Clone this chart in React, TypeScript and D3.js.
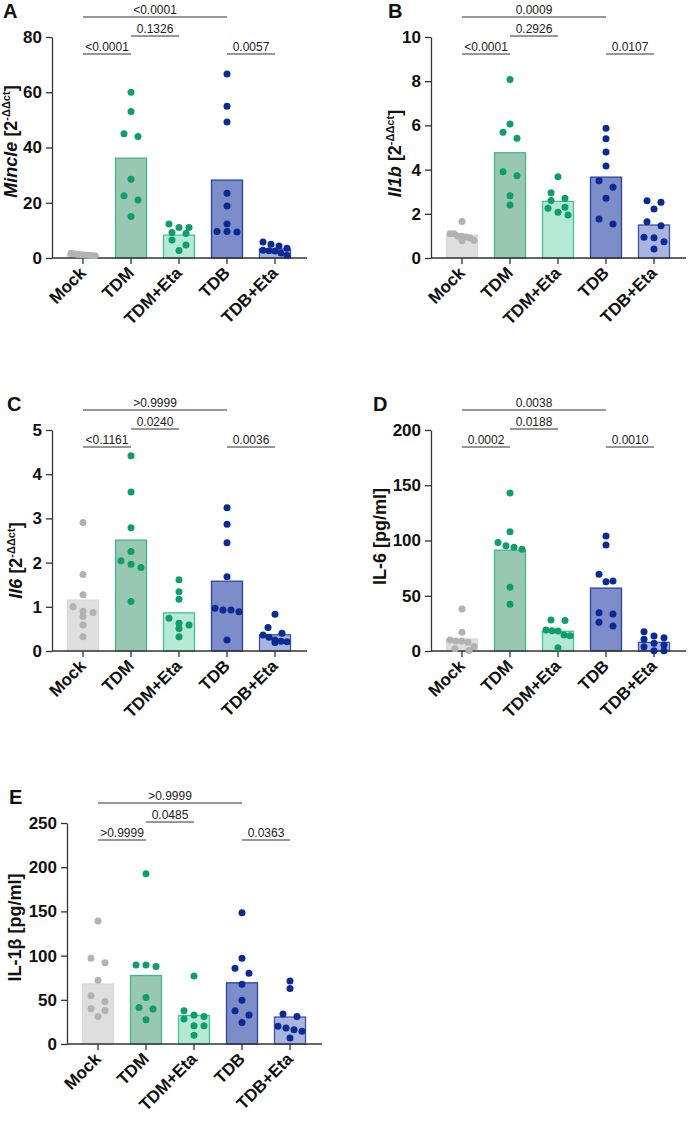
import React, { useEffect, useRef } from 'react';
import * as d3 from 'd3';

// treatment groups, in plotting order
const groups = ['Mock', 'TDM', 'TDM+Eta', 'TDB', 'TDB+Eta'];

// per-mouse values for each group (same order as groups)
const mincleValues = [
    [0.8, 1.0, 1.2, 1.5, 1.7, 1.3, 1.1, 0.9],
    [60, 53, 44, 45, 28.5, 22.5, 21, 15],
    [11, 12.3, 11, 9.2, 8.9, 6.5, 4.7, 2.7],
    [66.6, 54.9, 49.2, 23.4, 18.8, 12.3, 9.6, 9.6, 9.4],
    [2.8, 2.6, 5.8, 5.0, 4.3, 2.5, 1.8, 0.9, 3.5],
];
const il1bValues = [
    [1.65, 1.0, 0.98, 1.1, 1.1, 0.9, 0.8, 0.78, 0.95],
    [8.08, 6.06, 5.69, 5.42, 3.9, 3.72, 2.82, 2.4],
    [3.68, 2.95, 2.6, 2.7, 2.3, 2.25, 2.07, 1.95],
    [5.87, 5.4, 4.8, 4.16, 3.5, 3.2, 2.7, 1.76, 1.54],
    [2.59, 2.52, 2.22, 1.64, 1.46, 0.94, 0.92, 0.74, 0.41],
];
const il6Values = [
    [2.91, 1.73, 1.27, 1.0, 0.9, 0.87, 0.78, 0.59, 0.32],
    [4.42, 3.6, 2.79, 2.25, 2.04, 1.96, 1.89, 1.12],
    [1.61, 1.34, 1.17, 0.74, 0.63, 0.59, 0.51, 0.32],
    [3.24, 2.87, 2.45, 1.68, 0.97, 0.93, 0.93, 0.89, 0.25],
    [0.83, 0.53, 0.4, 0.36, 0.31, 0.25, 0.22, 0.21, 0.19],
];
const il6ProteinValues = [
    [38, 17, 10, 9, 9, 8, 4, 2, 0.5],
    [143, 108, 98.3, 95.3, 93.8, 92, 57.6, 42.3],
    [28, 27.5, 19, 18.4, 18.1, 14.5, 13.9, 3],
    [104, 96, 69.4, 63.3, 62.7, 34.7, 33.5, 26, 22.6],
    [17.5, 13.6, 12, 10.6, 7, 5.4, 3.9, 0.3, 0.3],
];
const il1bProteinValues = [
    [139, 97, 92, 72, 54.5, 48, 40, 38, 31],
    [192.5, 89.4, 89.4, 87.6, 52.6, 41.4, 39.5, 27.4],
    [77, 37.5, 32.7, 31.2, 28.2, 20.6, 20.6, 10],
    [148.5, 97, 85.7, 80, 67.6, 49.6, 37.5, 32.7, 24.4],
    [71.4, 62.8, 33.8, 31.2, 20, 18, 16.1, 14.3, 6.8],
];

// p-values: [from group, to group, label]; first is the long top bracket,
// second sits below it, the last two share the lowest level
const mincleStats = [
    ['Mock', 'TDB', '<0.0001'],
    ['TDM', 'TDM+Eta', '0.1326'],
    ['Mock', 'TDM', '<0.0001'],
    ['TDB', 'TDB+Eta', '0.0057'],
];
const il1bStats = [
    ['Mock', 'TDB', '0.0009'],
    ['TDM', 'TDM+Eta', '0.2926'],
    ['Mock', 'TDM', '<0.0001'],
    ['TDB', 'TDB+Eta', '0.0107'],
];
const il6Stats = [
    ['Mock', 'TDB', '>0.9999'],
    ['TDM', 'TDM+Eta', '0.0240'],
    ['Mock', 'TDM', '<0.1161'],
    ['TDB', 'TDB+Eta', '0.0036'],
];
const il6ProteinStats = [
    ['Mock', 'TDB', '0.0038'],
    ['TDM', 'TDM+Eta', '0.0188'],
    ['Mock', 'TDM', '0.0002'],
    ['TDB', 'TDB+Eta', '0.0010'],
];
const il1bProteinStats = [
    ['Mock', 'TDB', '>0.9999'],
    ['TDM', 'TDM+Eta', '0.0485'],
    ['Mock', 'TDM', '>0.9999'],
    ['TDB', 'TDB+Eta', '0.0363'],
];

const barFill = ['#dedede', '#98c8b1', '#b3e9d5', '#7c8dc9', '#aab5df'];
const barStroke = ['#d9d9d9', '#45b487', '#45c295', '#2b44a3', '#3a52aa'];
const dotFill = ['#b2b2b2', '#0f9d6b', '#0f9d6b', '#0a2a94', '#0a2a94'];

const FONT = '"Liberation Sans", Arial, Helvetica, sans-serif';
const PLOT_H = 221;
const FIRST = 31; // distance from y axis to first group
const STEP = 48;
const AXIS_W = 255;
const BAR_W = 31;

type Panel = {
    letter: string;
    values: number[][];
    stats: string[][];
    max: number;
    tickStep: number;
    gene?: string;
    label?: string;
    left: number;
    top: number;
    labelX: number;
    labelDy: number;
    letterX: number;
};

const panels: Panel[] = [
    { letter: 'A', values: mincleValues, stats: mincleStats, max: 80, tickStep: 20, gene: 'Mincle', left: 52, top: 37, labelX: 17, labelDy: -6, letterX: 3 },
    { letter: 'B', values: il1bValues, stats: il1bStats, max: 10, tickStep: 2, gene: 'Il1b', left: 431, top: 37, labelX: 401, labelDy: 6, letterX: 388 },
    { letter: 'C', values: il6Values, stats: il6Stats, max: 5, tickStep: 1, gene: 'Il6', left: 52, top: 430, labelX: 22, labelDy: 20, letterX: 7 },
    { letter: 'D', values: il6ProteinValues, stats: il6ProteinStats, max: 200, tickStep: 50, label: 'IL-6 [pg/ml]', left: 431, top: 430, labelX: 386, labelDy: -4, letterX: 373 },
    { letter: 'E', values: il1bProteinValues, stats: il1bProteinStats, max: 250, tickStep: 50, label: 'IL-1β [pg/ml]', left: 67, top: 823, labelX: 21, labelDy: -6, letterX: 9 },
];

// spread points that sit at nearly the same height into centred rows
function swarm(vals: number[], y: d3.ScaleLinear<number, number>) {
    const sorted = vals.slice().sort((a, b) => b - a);
    const rows: number[][] = [];
    sorted.forEach((v) => {
        const row = rows[rows.length - 1];
        if (row && y(v) - y(row[0]) < 7) row.push(v);
        else rows.push([v]);
    });
    const out: { v: number; dx: number }[] = [];
    rows.forEach((row) => {
        const n = row.length;
        const step = n === 1 ? 0 : n === 2 ? 14 : Math.min(10, 24 / (n - 1));
        row.forEach((v, i) => out.push({ v, dx: (i - (n - 1) / 2) * step }));
    });
    return out;
}

function drawPanel(svg: d3.Selection<SVGSVGElement, unknown, null, undefined>, p: Panel) {
    const g = svg.append('g');
    const x = d3.scalePoint<string>().domain(groups).range([p.left + FIRST, p.left + FIRST + STEP * 4]);
    const y = d3.scaleLinear().domain([0, p.max]).range([p.top + PLOT_H, p.top]);
    const y0 = y(0);

    // bars at group means
    g.selectAll('rect.bar')
        .data(p.values)
        .enter()
        .append('rect')
        .attr('class', 'bar')
        .attr('x', (_, i) => x(groups[i])! - BAR_W / 2)
        .attr('width', BAR_W)
        .attr('y', (d) => y(d3.mean(d)!))
        .attr('height', (d) => y0 - y(d3.mean(d)!))
        .attr('fill', (_, i) => barFill[i])
        .attr('stroke', (_, i) => barStroke[i])
        .attr('stroke-width', 1.3);

    // y axis
    const yAxis = g
        .append('g')
        .attr('transform', 'translate(' + p.left + ',0)')
        .call(
            d3
                .axisLeft(y)
                .tickValues(d3.range(0, p.max + p.tickStep / 2, p.tickStep))
                .tickSize(6)
                .tickSizeOuter(0)
                .tickPadding(4)
                .tickFormat(d3.format('d'))
        );
    yAxis.selectAll('path, line').attr('stroke', '#333').attr('stroke-width', 1.3);
    yAxis
        .selectAll('text')
        .attr('fill', '#111')
        .style('font-family', FONT)
        .style('font-size', '17px')
        .style('font-weight', 'bold');

    // x axis: baseline spans past the outer groups
    g.append('line')
        .attr('x1', p.left)
        .attr('x2', p.left + AXIS_W)
        .attr('y1', y0)
        .attr('y2', y0)
        .attr('stroke', '#333')
        .attr('stroke-width', 1.3);
    const xTicks = g
        .selectAll('g.xtick')
        .data(groups)
        .enter()
        .append('g')
        .attr('class', 'xtick')
        .attr('transform', (d) => 'translate(' + x(d) + ',' + y0 + ')');
    xTicks.append('line').attr('y2', 6).attr('stroke', '#333').attr('stroke-width', 1.3);
    xTicks
        .append('text')
        .attr('transform', 'translate(4,16) rotate(-45)')
        .attr('text-anchor', 'end')
        .attr('fill', '#111')
        .style('font-family', FONT)
        .style('font-size', '17px')
        .style('font-weight', 'bold')
        .text((d) => d);

    // individual animals
    p.values.forEach((vals, i) => {
        g.selectAll(null)
            .data(swarm(vals, y))
            .enter()
            .append('circle')
            .attr('cx', (d) => x(groups[i])! + d.dx)
            .attr('cy', (d) => y(d.v))
            .attr('r', 3.5)
            .attr('fill', dotFill[i]);
    });

    // comparison brackets
    const levelY = [p.top - 20, p.top - 1, p.top + 17, p.top + 17];
    p.stats.forEach((s, i) => {
        const x1 = x(s[0])!;
        const x2 = x(s[1])!;
        g.append('line')
            .attr('x1', x1)
            .attr('x2', x2)
            .attr('y1', levelY[i])
            .attr('y2', levelY[i])
            .attr('stroke', '#333')
            .attr('stroke-width', 1.1);
        g.append('text')
            .attr('x', (x1 + x2) / 2)
            .attr('y', levelY[i] - 3)
            .attr('text-anchor', 'middle')
            .attr('fill', '#222')
            .style('font-family', FONT)
            .style('font-size', '12px')
            .text(s[2]);
    });

    // panel letter
    g.append('text')
        .attr('x', p.letterX)
        .attr('y', p.top - 19)
        .attr('fill', '#111')
        .style('font-family', FONT)
        .style('font-size', '20px')
        .style('font-weight', 'bold')
        .text(p.letter);

    // y axis title
    const title = g
        .append('text')
        .attr('transform', 'translate(' + p.labelX + ',' + (p.top + PLOT_H / 2 + p.labelDy) + ') rotate(-90)')
        .attr('text-anchor', 'middle')
        .attr('fill', '#111')
        .style('font-family', FONT)
        .style('font-size', '18px')
        .style('font-weight', 'bold');
    if (p.gene) {
        title.append('tspan').style('font-style', 'italic').text(p.gene);
        title.append('tspan').text(' [2');
        title.append('tspan').attr('dy', -7).style('font-size', '11px').text('-ΔΔct');
        title.append('tspan').attr('dy', 7).text(']');
    } else {
        title.text(p.label!);
    }
}

export default function App() {
    const ref = useRef<SVGSVGElement>(null);

    useEffect(() => {
        const svg = d3.select(ref.current!);
        svg.selectAll('*').remove();
        panels.forEach((p) => drawPanel(svg, p));
    }, []);

    return (
        <svg
            ref={ref}
            width={690}
            height={1121}
            style={{ position: 'absolute', left: 0, top: 0, background: '#fff' }}
        />
    );
}
